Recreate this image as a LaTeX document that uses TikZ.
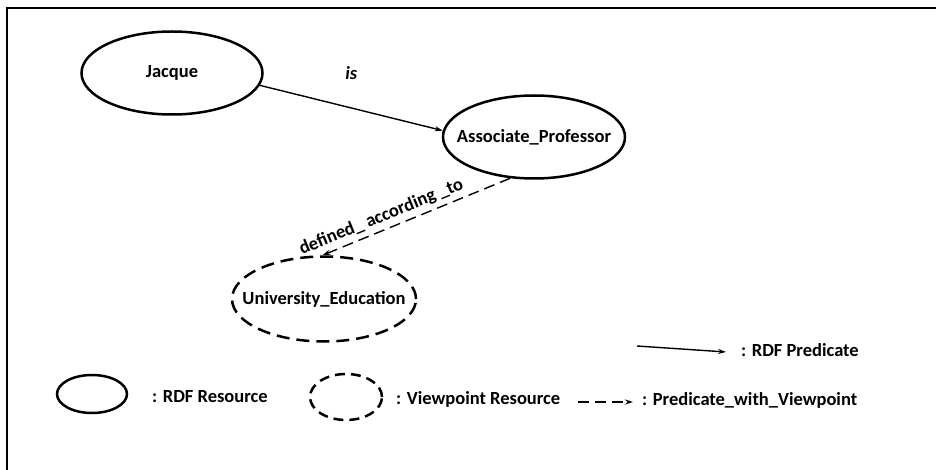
\documentclass[tikz,border=0pt]{standalone}
\usepackage{fontspec}
\setmainfont{Carlito}
\usetikzlibrary{calc, shapes.geometric, arrows.meta}
\usetikzlibrary{positioning}

\tikzset{
  res/.style={ellipse, draw, line width=2.5pt, inner sep=0pt},
  vres/.style={res, dash pattern=on 13pt off 7pt},
  pred/.style={-{Stealth[length=8pt,width=5pt]}, line width=1.4pt},
  vpred/.style={pred, dash pattern=on 11pt off 6pt},
  lgd/.style={anchor=west, inner sep=0pt},
}
\newcommand{\wide}[1]{\makebox[0pt]{#1}}

\begin{document}
\begin{tikzpicture}[x=1pt, y=-1pt, font=\fontsize{18.5}{21}\selectfont\bfseries]
        \useasboundingbox (0,0) rectangle (936,470);

        % frame
        \draw[line width=2pt] (936,8) -- (7,8) -- (7,470);

        % resources
        \node[res, minimum width=181pt, minimum height=83pt] (jacque) at (172,73) {Jacque};
        \node[res, minimum width=182pt, minimum height=83pt] (assoc) at ($(jacque) + (362,64)$) {\wide{Associate\_Professor}};
        \node[vres, minimum width=184pt, minimum height=85pt] (univ) at ($(assoc) + (-210,162)$) {\wide{University\_Education}};

        % predicates
        \draw[pred] (jacque.-8) -- (assoc.176) node[midway, above=24pt] {\itshape is};
        \draw[vpred] (assoc.240) -- (univ.92) node[pos=0.66, above=1pt, sloped] {defined\_ according \_to};

        % legend: resources
        \node[res, minimum width=70pt, minimum height=38pt] (lres) at (92,394) {};
        \node[lgd] (lrestxt) at (152,397) {: RDF Resource};
        \node[vres, minimum width=72pt, minimum height=46pt, dash pattern=on 10pt off 6pt] (lvres) at (346,397) {};
        \node[lgd] (lvrestxt) at (396,399) {: Viewpoint Resource};

        % legend: predicates
        \coordinate (lpred) at (637,346);
        \node[lgd] (lpredtxt) at (741,350) {: RDF Predicate};
        \draw[pred, shorten >=15pt] (lpred) -- ([yshift=-3pt]lpredtxt.west);
        \coordinate (lvpred) at (578,402);
        \node[lgd] (lvpredtxt) at (642,400) {: Predicate\_with\_Viewpoint};
        \draw[vpred, shorten >=9pt] (lvpred) -- ([yshift=-2pt]lvpredtxt.west);

    \end{tikzpicture}
\end{document}
